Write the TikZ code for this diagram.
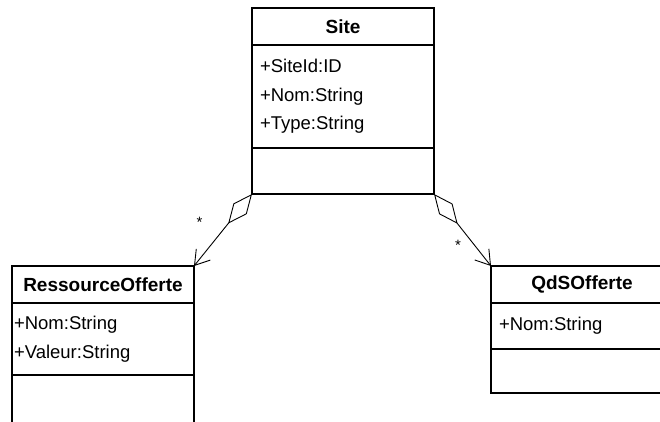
\documentclass[tikz,border=0pt]{standalone}
\usepackage{fontspec}
\setmainfont{Liberation Sans}
\usepackage{tikz}
\usetikzlibrary{arrows.meta,positioning}

\begin{document}
\begin{tikzpicture}[x=1pt,y=-1pt,
  umlbox/.style={draw,line width=1.5pt,outer sep=0pt,inner sep=0pt,minimum width=182pt},
  classhead/.style={umlbox,minimum height=37pt,font=\fontsize{19}{23}\selectfont\bfseries},
  classattr/.style={umlbox,text width=166pt,inner xsep=8pt,align=left,
                    font=\fontsize{18.5}{28.5}\selectfont},
  aggr/.style={line width=0.9pt,
               {Diamond[open,length=38pt,width=17pt]}-{Straight Barb[length=14pt,width=18pt]}},
  mult/.style={inner sep=0pt,font=\fontsize{15}{15}\selectfont}]
\useasboundingbox (0,0) rectangle (660,421);

% class Site
\node[classhead,anchor=north west] (site) at (252,8) {Site};
\node[classattr,minimum height=103pt,anchor=north] (siteattr) at (site.south)
  {+SiteId:ID\\+Nom:String\\+Type:String};
\node[umlbox,minimum height=46pt,anchor=north] (siteops) at (siteattr.south) {};

% class RessourceOffert
\node[classhead,anchor=north west] (res) at (12,266) {RessourceOfferte};
\node[classattr,minimum height=72pt,anchor=north,text width=178pt,inner xsep=2pt]
  (resattr) at (res.south) {+Nom:String\\+Valeur:String};
\node[umlbox,minimum height=60pt,anchor=north] (resops) at (resattr.south) {};

% class QdSOfferte
\node[classhead,anchor=north west] (qds) at (491,266) {QdSOfferte};
\node[classattr,minimum height=46pt,anchor=north] (qdsattr) at (qds.south) {+Nom:String};
\node[umlbox,minimum height=44pt,anchor=north] (qdsops) at (qdsattr.south) {};

% aggregations
\draw[aggr] (siteops.south west) -- node[mult,pos=0.4,left=26pt] {*} (res.north east);
\draw[aggr] (siteops.south east) -- node[mult,pos=0.71,left=13pt] {*} (qds.north west);
\end{tikzpicture}
\end{document}
